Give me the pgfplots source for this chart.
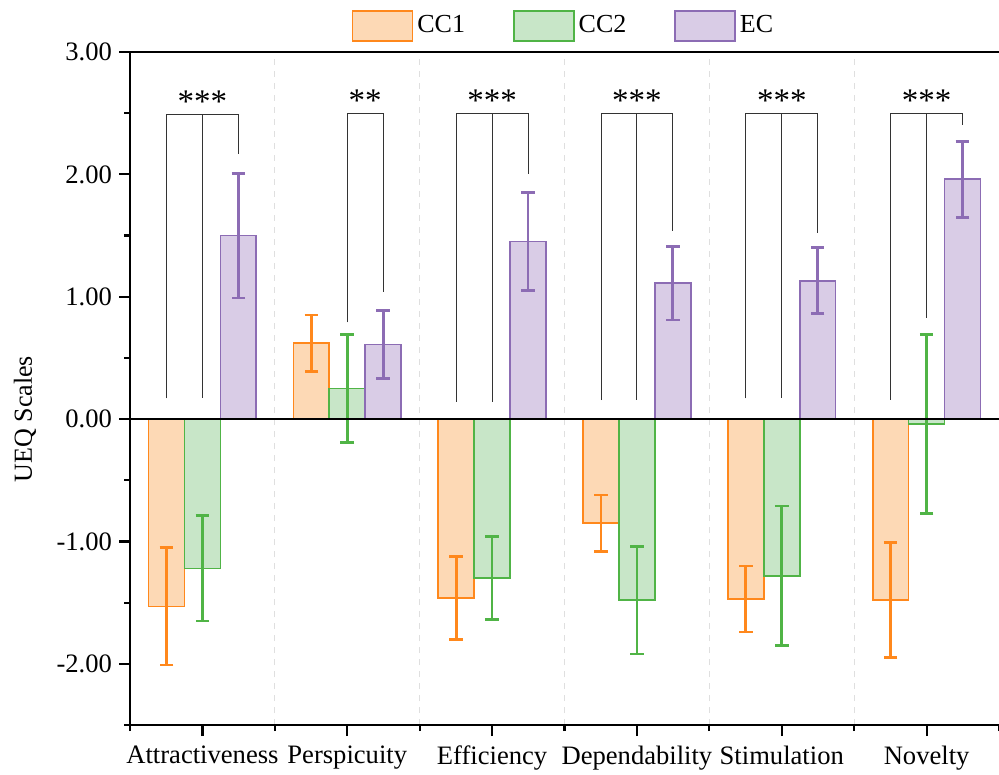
\documentclass[border=0pt]{standalone}
\usepackage{fontspec}
\setmainfont{Liberation Serif}
\usepackage{pgfplots}
\pgfplotsset{compat=1.18}
\usepackage{pgfplotstable}

\definecolor{ccAfill}{RGB}{253,217,181}
\definecolor{ccAedge}{RGB}{255,136,28}
\definecolor{ccBfill}{RGB}{200,230,200}
\definecolor{ccBedge}{RGB}{80,180,70}
\definecolor{ecfill}{RGB}{217,204,230}
\definecolor{ecedge}{RGB}{140,108,180}

% x = category position of each bar (group index plus bar offset)
\pgfplotstableread{
x y e
-0.248 -1.53 0.48
0.752 0.62 0.23
1.752 -1.46 0.34
2.752 -0.85 0.23
3.752 -1.47 0.27
4.752 -1.48 0.47
}\tableCCa
\pgfplotstableread{
x y e
0 -1.22 0.43
1 0.25 0.44
2 -1.30 0.34
3 -1.48 0.44
4 -1.28 0.57
5 -0.04 0.73
}\tableCCb
\pgfplotstableread{
x y e
0.248 1.50 0.51
1.248 0.61 0.28
2.248 1.45 0.40
3.248 1.11 0.30
4.248 1.13 0.27
5.248 1.96 0.31
}\tableEC

\pgfplotsset{
  mylegend/.style={legend image code/.code={\draw[##1] (0pt,-7.5pt) rectangle (30pt,7.5pt);}},
  mybar/.style 2 args={ybar, bar width=0.248, bar shift=0, draw=#1, fill=#2, line width=0.8pt,
    /pgfplots/error bars/y dir=both, /pgfplots/error bars/y explicit,
    /pgfplots/error bars/error bar style={#1, line width=1.4pt},
    /pgfplots/error bars/error mark options={rotate=90, mark size=3.4pt, line width=1.4pt, #1}},
  bracket/.style={no markers, black!80, line width=0.5pt, forget plot},
}

\begin{document}
\begin{tikzpicture}
\begin{axis}[
  scale only axis, width=434.5pt, height=336.5pt,
  xmin=-0.5, xmax=5.5, ymin=-2.5, ymax=3,
  axis y line*=left, axis x line*=bottom,
  xtick pos=bottom, ytick pos=left, tick align=outside,
  axis line style={line width=1.1pt, black},
  every tick/.style={line width=1.1pt, black},
  major tick length=5.5pt, minor tick length=3pt,
  xtick={0,1,2,3,4,5},
  xticklabels={Attractiveness,Perspicuity,Efficiency,Dependability,Stimulation,Novelty},
  minor xtick={-0.5,0.5,1.5,2.5,3.5,4.5,5.5},
  xminorgrids, minor grid style={dashed, gray!25, line width=0.5pt},
  ytick={-2,-1,0,1,2,3},
  yticklabels={{-2.00},{-1.00},{0.00},{1.00},{2.00},{3.00}},
  minor ytick={-2.5,-1.5,-0.5,0.5,1.5,2.5},
  tick label style={font=\fontsize{13.3}{15}\selectfont},
  xticklabel style={yshift=-1.5pt},
  ylabel={UEQ Scales},
  ylabel style={font=\fontsize{13}{15}\selectfont, at={([xshift=-52.5pt]axis description cs:0,0.4545)}, anchor=center},
  legend style={at={(0.5,1)}, anchor=south, yshift=3pt, draw=none, fill=none,
    font=\fontsize{13}{15}\selectfont, legend columns=3,
    /tikz/every even column/.append style={column sep=22pt}},
]
\addplot[mybar={ccAedge}{ccAfill}, mylegend] table[x=x, y=y, y error=e] {\tableCCa};
\addlegendentry{CC1}
\addplot[mybar={ccBedge}{ccBfill}, mylegend] table[x=x, y=y, y error=e] {\tableCCb};
\addlegendentry{CC2}
\addplot[mybar={ecedge}{ecfill}, mylegend] table[x=x, y=y, y error=e] {\tableEC};
\addlegendentry{EC}

\addplot[no markers, black, line width=1.1pt, forget plot] coordinates {(-0.5,0) (5.5,0)};

% significance brackets
\addplot[bracket] coordinates {(-0.248,0.17) (-0.248,2.49) (0.248,2.49) (0.248,2.17)};
\addplot[bracket] coordinates {(0,2.49) (0,0.17)};
\addplot[bracket] coordinates {(1,0.79) (1,2.50) (1.248,2.50) (1.248,1.04)};
\addplot[bracket] coordinates {(1.752,0.14) (1.752,2.50) (2.248,2.50) (2.248,2.00)};
\addplot[bracket] coordinates {(2,2.50) (2,0.14)};
\addplot[bracket] coordinates {(2.752,0.155) (2.752,2.50) (3.248,2.50) (3.248,1.54)};
\addplot[bracket] coordinates {(3,2.50) (3,0.155)};
\addplot[bracket] coordinates {(3.752,0.17) (3.752,2.50) (4.248,2.50) (4.248,1.52)};
\addplot[bracket] coordinates {(4,2.50) (4,0.17)};
\addplot[bracket] coordinates {(4.752,0.16) (4.752,2.50) (5.248,2.50) (5.248,2.40)};
\addplot[bracket] coordinates {(5,2.50) (5,0.83)};

\begin{scope}[every node/.style={font=\fontsize{16.5}{18}\selectfont, anchor=base, yshift=1pt}]
\node at (axis cs:0,2.49) {***};
\node at (axis cs:1.124,2.50) {**};
\node at (axis cs:2,2.50) {***};
\node at (axis cs:3,2.50) {***};
\node at (axis cs:4,2.50) {***};
\node at (axis cs:5,2.50) {***};
\end{scope}

\coordinate (SW) at (rel axis cs:0,0);
\coordinate (NE) at (rel axis cs:1,1);
\coordinate (NW) at (rel axis cs:0,1);
\end{axis}
\draw[black, line width=1.1pt] ([xshift=-0.55pt]NW) -- ([xshift=2pt]NE);
\pgfresetboundingbox
\path[use as bounding box] ([xshift=-65pt,yshift=-24.5pt]SW) rectangle ([yshift=26pt]NE);
\end{tikzpicture}
\end{document}
